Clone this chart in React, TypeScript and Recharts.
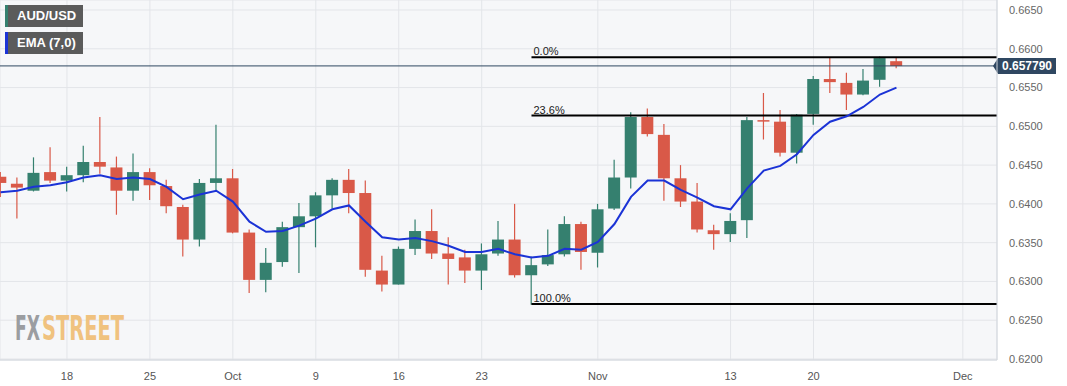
import {
  Bar,
  CartesianGrid,
  ComposedChart,
  Line,
  ReferenceLine,
  XAxis,
  YAxis,
} from 'recharts';

// trading days, Sep 12 → Nov 27
const dates = [
  'Sep 12', 'Sep 13', 'Sep 14', 'Sep 15', 'Sep 18', 'Sep 19', 'Sep 20', 'Sep 21', 'Sep 22',
  'Sep 25', 'Sep 26', 'Sep 27', 'Sep 28', 'Sep 29', 'Oct 2', 'Oct 3', 'Oct 4', 'Oct 5', 'Oct 6',
  'Oct 9', 'Oct 10', 'Oct 11', 'Oct 12', 'Oct 13', 'Oct 16', 'Oct 17', 'Oct 18', 'Oct 19', 'Oct 20',
  'Oct 23', 'Oct 24', 'Oct 25', 'Oct 26', 'Oct 27', 'Oct 30', 'Oct 31', 'Nov 1', 'Nov 2', 'Nov 3',
  'Nov 6', 'Nov 7', 'Nov 8', 'Nov 9', 'Nov 10', 'Nov 13', 'Nov 14', 'Nov 15', 'Nov 16', 'Nov 17',
  'Nov 20', 'Nov 21', 'Nov 22', 'Nov 23', 'Nov 24', 'Nov 27',
];

const opens = [
  0.6435, 0.6426, 0.6417, 0.6441, 0.643, 0.6437, 0.6454, 0.6447, 0.6417, 0.6441, 0.6423,
  0.6396, 0.6354, 0.6427, 0.6433, 0.6363, 0.6302, 0.6325, 0.637, 0.6384, 0.6411, 0.6431,
  0.6414, 0.6314, 0.6296, 0.6342, 0.6365, 0.6336, 0.6331, 0.6314, 0.6336, 0.6354, 0.6308,
  0.6322, 0.6335, 0.6374, 0.6337, 0.6394, 0.6434, 0.6512, 0.6489, 0.6433, 0.6403, 0.6366,
  0.6361, 0.6379, 0.6508, 0.6506, 0.6466, 0.6516, 0.6561, 0.6556, 0.6541, 0.656, 0.6584,
];
const highs = [
  0.6441, 0.6434, 0.646, 0.6473, 0.6448, 0.6475, 0.6512, 0.6461, 0.6465, 0.6446, 0.6431,
  0.6399, 0.6432, 0.6502, 0.6445, 0.6367, 0.6343, 0.6377, 0.6401, 0.6415, 0.6433, 0.6445,
  0.643, 0.6333, 0.6345, 0.638, 0.6393, 0.6357, 0.6341, 0.6349, 0.6378, 0.64, 0.6332,
  0.6367, 0.6384, 0.6377, 0.64, 0.6457, 0.6518, 0.6523, 0.6503, 0.645, 0.6427, 0.6373,
  0.6388, 0.6512, 0.6543, 0.6521, 0.6516, 0.6565, 0.6588, 0.6569, 0.6574, 0.659, 0.6588,
];
const lows = [
  0.6409, 0.6381, 0.6416, 0.6427, 0.6416, 0.6428, 0.6439, 0.6386, 0.6404, 0.6405, 0.6388,
  0.6332, 0.6345, 0.6418, 0.6362, 0.6285, 0.6286, 0.6319, 0.6311, 0.6344, 0.6394, 0.6388,
  0.6306, 0.6287, 0.6296, 0.6334, 0.6329, 0.6296, 0.6298, 0.6289, 0.6333, 0.6305, 0.627,
  0.632, 0.6332, 0.6315, 0.6318, 0.6392, 0.642, 0.6487, 0.6404, 0.6396, 0.6363, 0.6341,
  0.6351, 0.6356, 0.6483, 0.6461, 0.6452, 0.6502, 0.6543, 0.6521, 0.654, 0.6551, 0.6575,
];
const closes = [
  0.6427, 0.6421, 0.644, 0.643, 0.6437, 0.6454, 0.6448, 0.6417, 0.6441, 0.6424, 0.6397,
  0.6354, 0.6427, 0.6433, 0.6363, 0.6302, 0.6324, 0.637, 0.6384, 0.6411, 0.6431, 0.6414,
  0.6315, 0.6296, 0.6342, 0.6365, 0.6336, 0.6329, 0.6314, 0.6335, 0.6354, 0.6308, 0.6321,
  0.6334, 0.6374, 0.6338, 0.6393, 0.6434, 0.6512, 0.649, 0.6433, 0.6403, 0.6367, 0.6361,
  0.6378, 0.6508, 0.6507, 0.6466, 0.6515, 0.6561, 0.6557, 0.6541, 0.6559, 0.6588, 0.65779,
];
const ema7 = [
  0.6415, 0.6417, 0.6422, 0.6424, 0.6428, 0.6434, 0.6437, 0.6432, 0.6434, 0.6432, 0.6422,
  0.6406, 0.6412, 0.6417, 0.6403, 0.6377, 0.6364, 0.6365, 0.6372, 0.6381, 0.6393, 0.6398,
  0.6377, 0.6357, 0.6354, 0.6356, 0.6352, 0.6346, 0.6338, 0.6338, 0.6342, 0.6335, 0.6331,
  0.6333, 0.6342, 0.6341, 0.6351, 0.6374, 0.6409, 0.643, 0.643, 0.6418, 0.6408, 0.6397,
  0.6393, 0.642, 0.6443, 0.6449, 0.6464, 0.6489, 0.6506, 0.6513, 0.6525, 0.6541, 0.655,
];

const tickIdx = [4, 9, 14, 19, 24, 29, 36, 44, 49, 58];
const tickLabels = ['18', '25', 'Oct', '9', '16', '23', 'Nov', '13', '20', 'Dec'];
const priceTicks = [0.62, 0.625, 0.63, 0.635, 0.64, 0.645, 0.65, 0.655, 0.66, 0.665];

const fibLow = 0.6271;
const fibHigh = 0.6589;
const fibLevels = [
  { label: '0.0%', value: fibHigh },
  { label: '23.6%', value: fibHigh - 0.236 * (fibHigh - fibLow) },
  { label: '100.0%', value: fibLow },
];
const lastPrice = 0.65779;

const X_MIN = -0.036;
const X_MAX = 60.06;
const UP = '#35806f';
const DOWN = '#d95948';
const FONT = '"Liberation Sans", Arial, sans-serif';
const NARROW = '"Liberation Sans Narrow", "DejaVu Sans Condensed", sans-serif';

const data = dates.map((d, i) => ({
  i,
  date: d,
  open: opens[i],
  high: highs[i],
  low: lows[i],
  close: closes[i],
  range: [lows[i], highs[i]],
  ema: ema7[i],
}));

function Candle(props: any) {
  const { x, y, width, height, payload } = props;
  if (!payload) return null;
  const { open, close, high, low } = payload;
  const top = Math.min(y, y + height);
  const h = Math.abs(height);
  const k = high - low > 0 ? h / (high - low) : 0;
  const py = (v: number) => top + (high - v) * k;
  const color = close >= open ? UP : DOWN;
  const cx = x + width / 2;
  const bTop = py(Math.max(open, close));
  const bH = Math.max(1.5, py(Math.min(open, close)) - bTop);
  return (
    <g>
      <line x1={cx} x2={cx} y1={top} y2={top + h} stroke={color} strokeWidth={1.2} />
      <rect x={x} y={bTop} width={width} height={bH} fill={color} />
    </g>
  );
}

function PriceTag(props: any) {
  const vb = props.viewBox || {};
  const right = (vb.x || 0) + (vb.width || 0);
  const y = vb.y || 0;
  return (
    <g>
      <path
        d={`M${right - 4},${y} L${right + 1},${y - 8} L${right + 59},${y - 8} L${right + 59},${y + 8} L${right + 1},${y + 8} Z`}
        fill="#2f4761"
      />
      <text x={right + 30} y={y + 4} textAnchor="middle" fill="#fff" fontSize={12} fontWeight="bold" fontFamily={FONT}>
        {lastPrice.toFixed(6)}
      </text>
    </g>
  );
}

function Legend() {
  const box = (top: number, accent: string, text: string) => (
    <div
      style={{
        position: 'absolute',
        left: 5,
        top,
        width: 78,
        height: 22,
        background: '#5b5b5b',
        borderLeft: `3px solid ${accent}`,
        boxSizing: 'border-box',
        color: '#fff',
        fontSize: 13,
        fontWeight: 'bold',
        lineHeight: '22px',
        paddingLeft: 9,
        fontFamily: FONT,
      }}
    >
      {text}
    </div>
  );
  return (
    <>
      {box(5, UP, 'AUD/USD')}
      {box(32, '#1b33d6', 'EMA (7,0)')}
    </>
  );
}

export default function App() {
  return (
    <div style={{ position: 'absolute', left: 0, top: 0, width: 1067, height: 386, background: '#fff', fontFamily: FONT }}>
      <ComposedChart width={1067} height={386} data={data} margin={{ top: 0, right: 0, bottom: 0, left: 0 }}>
        <CartesianGrid fill="#f6f7f9" stroke="#e3e5e9" />
        <XAxis
          dataKey="i"
          type="number"
          domain={[X_MIN, X_MAX]}
          allowDataOverflow
          ticks={tickIdx}
          tickFormatter={(v: number) => tickLabels[tickIdx.indexOf(v)] ?? ''}
          interval={0}
          height={26}
          axisLine={{ stroke: '#d3d7dd' }}
          tickLine={false}
          tick={{ fill: '#555', fontSize: 11, fontFamily: FONT }}
          tickMargin={6}
        />
        <YAxis
          orientation="right"
          type="number"
          domain={[0.61987, 0.66629]}
          allowDataOverflow
          ticks={priceTicks}
          tickFormatter={(v: number) => v.toFixed(4)}
          width={70}
          axisLine={{ stroke: '#d3d7dd' }}
          tickLine={false}
          tick={{ fill: '#666', fontSize: 11, fontFamily: FONT, textAnchor: 'start' }}
          tickMargin={6}
        />
        <ReferenceLine y={lastPrice} stroke="#2f4761" strokeWidth={1} label={<PriceTag />} />
        {fibLevels.map((f) => (
          <ReferenceLine
            key={f.label}
            segment={[
              { x: 32, y: f.value },
              { x: X_MAX, y: f.value },
            ]}
            stroke="#000"
            strokeWidth={2}
            label={{ value: f.label, position: 'insideBottomLeft', offset: 2, fill: '#222', fontSize: 11, fontFamily: FONT }}
          />
        ))}
        <Bar dataKey="range" barSize={12} shape={<Candle />} isAnimationActive={false} />
        <Line dataKey="ema" type="linear" stroke="#1b33d6" strokeWidth={2} dot={false} activeDot={false} isAnimationActive={false} />
        <text x={15} y={340} fontSize={34} fontWeight="bold" fontFamily={NARROW} fill="#9b9da1" textLength={25} lengthAdjust="spacingAndGlyphs">
          FX
        </text>
        <text x={42} y={340} fontSize={34} fontWeight="bold" fontFamily={NARROW} fill="#f0c27f" textLength={82} lengthAdjust="spacingAndGlyphs">
          STREET
        </text>
      </ComposedChart>
      <Legend />
    </div>
  );
}
